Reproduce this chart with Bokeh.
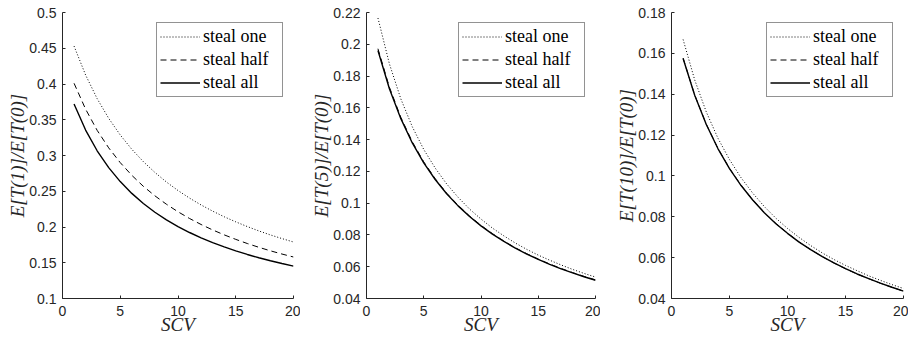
from bokeh.plotting import figure
from bokeh.layouts import row
from bokeh.models import FixedTicker, Range1d, Legend, LegendItem
from bokeh.embed import file_html
from bokeh.resources import INLINE

# ---------------- data ----------------
scv = [1, 2, 3, 4, 5, 6, 7, 8, 9, 10, 11, 12, 13, 14, 15, 16, 17, 18, 19, 20]

# Panel 1: E[T(1)]/E[T(0)]
t1_one = [0.4530, 0.4126, 0.3795, 0.3520, 0.3287, 0.3087, 0.2914, 0.2763, 0.2629, 0.2510,
          0.2404, 0.2308, 0.2222, 0.2143, 0.2072, 0.2006, 0.1945, 0.1889, 0.1838, 0.1790]
t1_half = [0.4010, 0.3648, 0.3352, 0.3107, 0.2900, 0.2723, 0.2569, 0.2436, 0.2318, 0.2213,
           0.2119, 0.2035, 0.1959, 0.1890, 0.1827, 0.1769, 0.1716, 0.1667, 0.1622, 0.1580]
t1_all = [0.3720, 0.3356, 0.3066, 0.2831, 0.2635, 0.2470, 0.2328, 0.2206, 0.2100, 0.2006,
          0.1923, 0.1848, 0.1781, 0.1721, 0.1666, 0.1616, 0.1570, 0.1528, 0.1489, 0.1453]

# Panel 2: E[T(5)]/E[T(0)]
t5_one = [0.2165, 0.1877, 0.1656, 0.1481, 0.1338, 0.1221, 0.1121, 0.1037, 0.0963, 0.0900,
          0.0843, 0.0794, 0.0749, 0.0709, 0.0673, 0.0641, 0.0611, 0.0583, 0.0558, 0.0535]
t5_half = [0.1972, 0.1730, 0.1540, 0.1386, 0.1260, 0.1154, 0.1063, 0.0987, 0.0919, 0.0860,
           0.0808, 0.0761, 0.0719, 0.0682, 0.0648, 0.0617, 0.0589, 0.0563, 0.0539, 0.0517]
t5_all = [0.1961, 0.1720, 0.1532, 0.1379, 0.1254, 0.1149, 0.1059, 0.0983, 0.0916, 0.0857,
          0.0805, 0.0759, 0.0717, 0.0680, 0.0646, 0.0615, 0.0587, 0.0561, 0.0537, 0.0515]

# Panel 3: E[T(10)]/E[T(0)]
t10_one = [0.1668, 0.1470, 0.1313, 0.1185, 0.1080, 0.0991, 0.0916, 0.0850, 0.0793, 0.0743,
           0.0699, 0.0659, 0.0623, 0.0591, 0.0562, 0.0536, 0.0511, 0.0489, 0.0468, 0.0449]
t10_half = [0.1577, 0.1396, 0.1253, 0.1135, 0.1037, 0.0954, 0.0883, 0.0821, 0.0767, 0.0720,
            0.0677, 0.0639, 0.0605, 0.0574, 0.0546, 0.0520, 0.0497, 0.0475, 0.0455, 0.0436]
t10_all = [0.1575, 0.1395, 0.1252, 0.1134, 0.1036, 0.0953, 0.0882, 0.0820, 0.0766, 0.0719,
           0.0676, 0.0639, 0.0605, 0.0574, 0.0546, 0.0520, 0.0497, 0.0475, 0.0455, 0.0436]

series_names = ["steal one", "steal half", "steal all"]

x_ticks = [0, 5, 10, 15, 20]
x_tick_labels = ["0", "5", "10", "15", "20"]

y1_ticks = [0.1, 0.15, 0.2, 0.25, 0.3, 0.35, 0.4, 0.45, 0.5]
y1_tick_labels = ["0.1", "0.15", "0.2", "0.25", "0.3", "0.35", "0.4", "0.45", "0.5"]
y2_ticks = [0.04, 0.06, 0.08, 0.1, 0.12, 0.14, 0.16, 0.18, 0.2, 0.22]
y2_tick_labels = ["0.04", "0.06", "0.08", "0.1", "0.12", "0.14", "0.16", "0.18", "0.2", "0.22"]
y3_ticks = [0.04, 0.06, 0.08, 0.1, 0.12, 0.14, 0.16, 0.18]
y3_tick_labels = ["0.04", "0.06", "0.08", "0.1", "0.12", "0.14", "0.16", "0.18"]

x_label = "SCV"
y_labels = ["E[T(1)]/E[T(0)]", "E[T(5)]/E[T(0)]", "E[T(10)]/E[T(0)]"]

AX = "#262626"
SERIF = "'Liberation Serif', 'Times New Roman', Times, serif"


def make_panel(ylabel, ylo, yhi, yticks, ylabs, one, half, allv, bl, fw, br):
    p = figure(output_backend="svg", toolbar_location=None,
               frame_width=fw, frame_height=286,
               min_border_left=bl, min_border_right=br,
               min_border_top=12, min_border_bottom=43,
               x_range=Range1d(0, 20), y_range=Range1d(ylo, yhi))
    p.outline_line_color = None
    p.xgrid.visible = False
    p.ygrid.visible = False
    p.background_fill_color = "white"

    r1 = p.line(scv, one, line_color="black", line_width=1, line_dash="1 2")
    r2 = p.line(scv, half, line_color="black", line_width=1, line_dash="6 4")
    r3 = p.line(scv, allv, line_color="black", line_width=1.4)

    for ax in (p.xaxis[0], p.yaxis[0]):
        ax.axis_line_color = AX
        ax.axis_line_width = 1
        ax.major_tick_line_color = AX
        ax.major_tick_in = 3
        ax.major_tick_out = 0
        ax.minor_tick_line_color = None
        ax.major_label_text_font = "Liberation Sans"
        ax.major_label_text_font_size = "14px"
        ax.major_label_text_color = AX
        ax.axis_label_text_font = SERIF
        ax.axis_label_text_font_style = "italic"
        ax.axis_label_text_font_size = "19px"
        ax.axis_label_text_color = AX

    p.xaxis.ticker = FixedTicker(ticks=x_ticks)
    p.xaxis.major_label_overrides = {t: l for t, l in zip(x_ticks, x_tick_labels)}
    p.xaxis.axis_label = x_label
    p.xaxis.major_label_standoff = 7
    p.xaxis.axis_label_standoff = -5

    p.yaxis.ticker = FixedTicker(ticks=yticks)
    p.yaxis.major_label_overrides = {t: l for t, l in zip(yticks, ylabs)}
    p.yaxis.axis_label = ylabel
    p.yaxis.major_label_standoff = 6
    p.yaxis.axis_label_standoff = -2

    legend = Legend(items=[LegendItem(label=series_names[0], renderers=[r1]),
                           LegendItem(label=series_names[1], renderers=[r2]),
                           LegendItem(label=series_names[2], renderers=[r3])],
                    location="top_right")
    legend.margin = 10
    legend.padding = 3
    legend.spacing = 2
    legend.glyph_width = 40
    legend.glyph_height = 21
    legend.label_height = 21
    legend.label_width = 76
    legend.label_standoff = 3
    legend.label_text_font = SERIF
    legend.label_text_font_size = "18px"
    legend.label_text_color = "black"
    legend.border_line_color = AX
    legend.border_line_width = 1
    legend.background_fill_color = "white"
    legend.background_fill_alpha = 1
    p.add_layout(legend, "center")
    return p


p1 = make_panel(y_labels[0], 0.1, 0.5, y1_ticks, y1_tick_labels, t1_one, t1_half, t1_all, 62, 231, 7)
p2 = make_panel(y_labels[1], 0.04, 0.22, y2_ticks, y2_tick_labels, t5_one, t5_half, t5_all, 66, 229, 5)
p3 = make_panel(y_labels[2], 0.04, 0.18, y3_ticks, y3_tick_labels, t10_one, t10_half, t10_all, 71, 232, 5)

layout = row(p1, p2, p3)

with open("out.html", "w") as f:
    f.write(file_html(layout, INLINE))
